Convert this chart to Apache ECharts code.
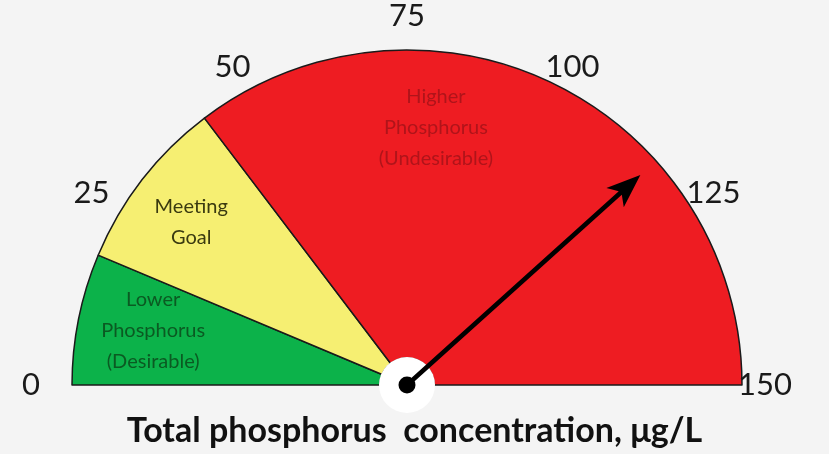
<!DOCTYPE html>
<html><head><meta charset="utf-8">
<script src="https://cdn.jsdelivr.net/npm/echarts@6/dist/echarts.min.js"></script>
<style>html,body{margin:0;padding:0;background:#f4f4f4;}#c{width:829px;height:454px;}</style>
</head><body><div id="c"></div>
<script>
// Data
const bandNames = ['Lower\nPhosphorus\n(Desirable)', 'Meeting\nGoal', 'Higher\nPhosphorus\n(Undesirable)'];
const bandEnds = [19, 44, 150];      // upper limit of each band (µg/L)
const bandColors = ['#0cb24a', '#f6ef72', '#ee1c22'];
const bandTextColors = ['#0b5a22', '#3a3a10', '#b0141a'];
const needleValue = 115;
const tickValues = [0, 25, 50, 75, 100, 125, 150];
const gaugeMin = 0, gaugeMax = 150;
const axisTitle = 'Total phosphorus  concentration, μg/L';

const cx = 407, cy = 385, R = 335, hole = 27;
const bandSizes = bandEnds.map((v, i) => v - (i ? bandEnds[i - 1] : gaugeMin));
const labelOffsets = [[4, -2], [-8, -2], [-88, -22]];
const pieData = bandSizes.map((v, i) => ({
  value: v, name: bandNames[i],
  itemStyle: { color: bandColors[i] }
}));
pieData.push({ value: gaugeMax - gaugeMin, name: '', itemStyle: { color: 'rgba(0,0,0,0)', borderWidth: 0 }, label: { show: false } });

const labelData = bandSizes.map((v, i) => ({
  value: v, name: bandNames[i],
  label: { color: bandTextColors[i], offset: labelOffsets[i] }
}));
labelData.push({ value: gaugeMax - gaugeMin, name: '', label: { show: false } });

const chart = echarts.init(document.getElementById('c'));
chart.setOption({
  backgroundColor: '#f4f4f4',
  animation: false,
  title: {
    text: axisTitle, left: 'center', top: 409,
    textStyle: { fontFamily: 'Lato', fontWeight: 'bold', fontSize: 34, color: '#111' }
  },
  series: [
    {
      type: 'pie', center: [cx, cy], radius: [hole, R], startAngle: 180, clockwise: true,
      silent: true, label: { show: false }, labelLine: { show: false },
      itemStyle: { borderColor: '#1a1a1a', borderWidth: 1.5 },
      data: pieData, z: 1
    },
    {
      type: 'pie', center: [cx, cy], radius: [0, 520], startAngle: 180, clockwise: true,
      silent: true, labelLine: { show: false },
      itemStyle: { color: 'rgba(0,0,0,0)', borderWidth: 0 },
      label: { show: true, position: 'inside', fontFamily: 'Lato', fontSize: 20, lineHeight: 31, align: 'center' },
      data: labelData, z: 2
    },
    {
      type: 'pie', center: [cx, cy], radius: [0, hole + 1], silent: true,
      label: { show: false }, labelLine: { show: false },
      itemStyle: { color: '#ffffff', borderWidth: 0 },
      data: [{ value: 1 }], z: 3
    },
    {
      type: 'gauge', center: [cx, cy], radius: 405, min: gaugeMin, max: gaugeMax,
      startAngle: 180, endAngle: 0, splitNumber: tickValues.length - 1,
      axisLine: { show: false }, splitLine: { show: false }, axisTick: { show: false },
      axisLabel: { show: true, distance: 0, align: 'center', verticalAlign: 'middle',
        fontFamily: 'Lato', fontSize: 31, color: '#1a1a1a',
        formatter: v => tickValues.includes(Math.round(v)) ? String(Math.round(v)) : '' },
      pointer: { show: false }, detail: { show: false }, title: { show: false },
      data: [], z: 4
    },
    {
      type: 'gauge', center: [cx, cy], radius: R, min: gaugeMin, max: gaugeMax,
      startAngle: 180, endAngle: 0,
      axisLine: { show: false }, splitLine: { show: false }, axisTick: { show: false }, axisLabel: { show: false },
      pointer: {
        show: true, length: 314, width: 26, offsetCenter: [0, 0],
        icon: 'path://M13,0 L26,34 L15.3,27 L15.3,314 L10.7,314 L10.7,27 L0,34 Z',
        itemStyle: { color: '#000' }
      },
      anchor: { show: true, showAbove: true, size: 17, itemStyle: { color: '#000' } },
      detail: { show: false }, title: { show: false },
      data: [{ value: needleValue }], z: 5
    }
  ]
});
</script></body></html>
